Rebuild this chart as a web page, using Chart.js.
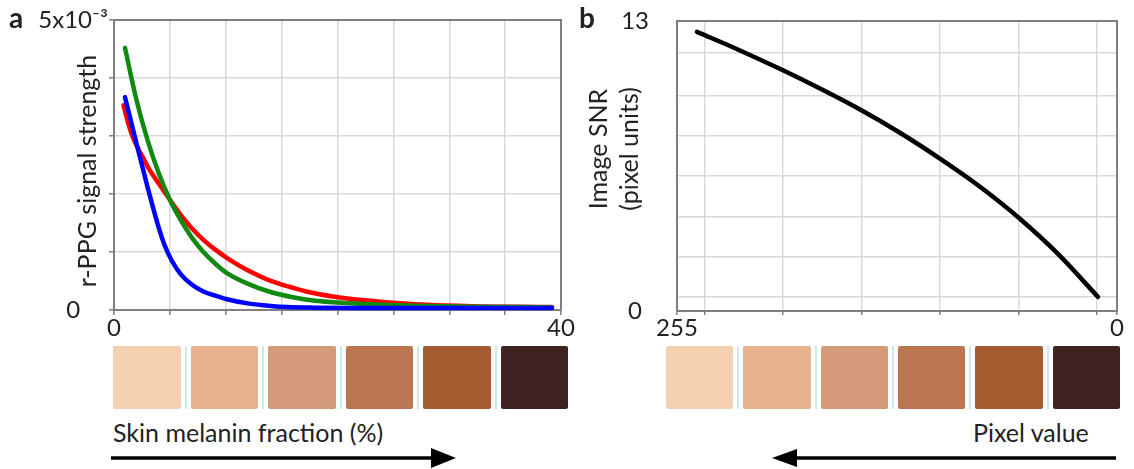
<!DOCTYPE html>
<html><head><meta charset="utf-8">
<script src="https://cdn.jsdelivr.net/npm/chart.js@4"></script>
<style>
html,body{margin:0;padding:0;background:#fff;}
#wrap{position:relative;width:1134px;height:469px;overflow:hidden;font-family:Lato,'DejaVu Sans',sans-serif;color:#222;}
.box{position:absolute;}
.sw{flex:1;border-radius:2px;}
.gap{width:10px;background:linear-gradient(to right,transparent 4px,#cdeaea 4px,#cdeaea 6px,transparent 6px);}
.lbl{position:absolute;font-size:25px;line-height:28px;white-space:nowrap;}
.panel{position:absolute;font-weight:bold;font-size:28px;line-height:32px;}
</style></head><body>
<div id="wrap">
  <div class="box" style="left:0;top:0;width:580px;height:340px"><canvas id="ca"></canvas></div>
  <div class="box" style="left:580px;top:0;width:554px;height:340px"><canvas id="cb"></canvas></div>
  <div class="panel" style="left:9px;top:1px">a</div>
  <div class="panel" style="left:579px;top:1px">b</div>
  <div id="swA"></div>
  <div id="swB"></div>
  <div class="lbl" id="xtA" style="left:113px;top:418px"></div>
  <div class="lbl" id="xtB" style="left:973px;top:418px"></div>
  <svg style="position:absolute;left:0;top:0" width="1134" height="469">
    <line x1="111" y1="458" x2="436" y2="458" stroke="#000" stroke-width="3.5"/>
    <polygon points="456,458 431,448 431,468" fill="#000"/>
    <line x1="1116" y1="458" x2="792" y2="458" stroke="#000" stroke-width="3.5"/>
    <polygon points="772,458 797,449 797,467" fill="#000"/>
  </svg>
</div>
<script>
// ---- Panel a data: r-PPG signal strength (x10^-3) vs skin melanin fraction (%)
const blueX  = [0.98, 1.5, 2, 2.5, 3, 3.5, 4, 4.5, 5.2, 6, 6.95, 8, 9, 10, 12.1, 14, 15.5, 18, 22, 28, 34, 39.2];
const blueY  = [3.67, 3.27, 2.88, 2.50, 2.12, 1.76, 1.42, 1.13, 0.84, 0.61, 0.44, 0.32, 0.25, 0.19, 0.11, 0.07, 0.05, 0.04, 0.035, 0.035, 0.035, 0.035];
const greenX = [0.98, 2, 3, 4, 5, 6, 7, 8, 9, 10, 12, 14, 16, 18, 20, 24, 28, 32, 36, 39.2];
const greenY = [4.52, 3.63, 2.93, 2.36, 1.90, 1.54, 1.24, 1.00, 0.81, 0.65, 0.45, 0.31, 0.22, 0.16, 0.13, 0.09, 0.07, 0.055, 0.05, 0.045];
const redX   = [0.85, 1.3, 1.7, 2.5, 3.2, 4, 5, 6, 7, 8, 9, 10.4, 12, 13.8, 15.5, 17.2, 20, 24, 28, 32, 36, 39.2];
const redY   = [3.53, 3.20, 2.97, 2.66, 2.41, 2.18, 1.90, 1.63, 1.40, 1.21, 1.05, 0.86, 0.68, 0.52, 0.41, 0.32, 0.22, 0.14, 0.09, 0.065, 0.055, 0.05];
const aXLabelValues = [0, 40];
const aYLabelValues = [0, 5];
const aYLabels = ['0', '5x10\u207B\u00B3'];
const aYTitle = 'r-PPG signal strength';
const aXTitle = 'Skin melanin fraction (%)';

// ---- Panel b data: image SNR vs pixel value
const pixelX = [243.4, 218.5, 193.6, 172.1, 148.9, 125.8, 102.6, 79.4, 56.8, 34.2, 11.0];
const snrY   = [12.51, 11.68, 10.79, 9.97, 9.03, 7.99, 6.83, 5.57, 4.17, 2.56, 0.63];
const bXGrid = [255, 238.8, 193.6, 147.8, 102.6, 56.8, 11.6, 0];
const bYGrid = [0, 0.63, 2.42, 4.21, 6.05, 7.84, 9.64, 11.56, 13];
const bXLabelValues = [255, 0];
const bYLabelValues = [0, 13];
const bYTitle = ['Image SNR', '(pixel units)'];
const bXTitle = 'Pixel value';

const skinColors = ['#f4cfb0', '#e8b18e', '#d39b79', '#bb7751', '#a35c2d', '#3e2320'];

// ---- styles
const FONT = "Lato, 'DejaVu Sans', sans-serif";
const TXT = '#222';
const GRID = '#d9d9d9';
const AXIS = '#7f7f7f';
const TICKFONT = { family: FONT, size: 24, lineHeight: 1 };

document.getElementById('xtA').textContent = aXTitle;
document.getElementById('xtB').textContent = bXTitle;

function buildSwatches(id, left, width) {
  const el = document.getElementById(id);
  el.style.cssText = 'position:absolute;left:' + left + 'px;top:346px;width:' + width + 'px;height:63px;display:flex;';
  skinColors.forEach((c, i) => {
    if (i > 0) { const g = document.createElement('div'); g.className = 'gap'; el.appendChild(g); }
    const d = document.createElement('div'); d.className = 'sw'; d.style.background = c; el.appendChild(d);
  });
}
buildSwatches('swA', 113, 455);
buildSwatches('swB', 666, 454);

const framePlugin = {
  id: 'frame',
  beforeDatasetsDraw(chart) {
    const a = chart.chartArea, ctx = chart.ctx;
    ctx.save(); ctx.strokeStyle = AXIS; ctx.lineWidth = 2;
    ctx.strokeRect(a.left, a.top, a.right - a.left, a.bottom - a.top);
    ctx.restore();
  }
};
const sideTitle = {
  id: 'sideTitle',
  afterDraw(chart, args, opts) {
    const ctx = chart.ctx;
    ctx.save();
    ctx.font = opts.size + 'px ' + FONT;
    ctx.fillStyle = TXT; ctx.textAlign = 'center'; ctx.textBaseline = 'middle';
    opts.lines.forEach((t, i) => {
      ctx.save();
      ctx.translate(opts.x + i * opts.lineGap, opts.y);
      ctx.rotate(-Math.PI / 2);
      ctx.fillText(t, 0, 0);
      ctx.restore();
    });
    ctx.restore();
  }
};

const lineEl = { borderWidth: 4.5, cubicInterpolationMode: 'monotone', borderCapStyle: 'round', borderJoinStyle: 'round' };
const pts = (xs, ys) => xs.map((x, i) => ({ x: x, y: ys[i] }));

new Chart(document.getElementById('ca'), {
  type: 'line',
  data: { datasets: [
    { data: pts(blueX, blueY), borderColor: '#0000ff', clip: 4 },
    { data: pts(greenX, greenY), borderColor: '#118a11', clip: 4 },
    { data: pts(redX, redY), borderColor: '#ff0000', clip: 4 }
  ] },
  options: {
    responsive: true, maintainAspectRatio: false, animation: false,
    layout: { padding: { left: 0, right: 19, top: 20, bottom: 0 } },
    elements: { point: { radius: 0 }, line: lineEl },
    plugins: { legend: { display: false }, tooltip: { enabled: false },
      sideTitle: { lines: [aYTitle], x: 88, y: 171, size: 25, lineGap: 0 } },
    scales: {
      x: { type: 'linear', min: 0, max: 40,
        ticks: { stepSize: 5, autoSkip: false, maxRotation: 0, padding: 1, color: TXT, font: TICKFONT,
          callback: v => aXLabelValues.includes(v) ? String(v) : '' },
        grid: { color: GRID, lineWidth: 1.5, tickLength: 5, tickColor: AXIS, tickWidth: 1.5 },
        border: { color: AXIS, width: 2 },
        afterFit: s => { s.height = 30; } },
      y: { min: 0, max: 5,
        ticks: { stepSize: 1, autoSkip: false, padding: 1, crossAlign: 'center', color: TXT, font: TICKFONT,
          callback: v => { const k = aYLabelValues.indexOf(v); return k >= 0 ? aYLabels[k] : ''; } },
        grid: { color: GRID, lineWidth: 1.5, tickLength: 5, tickColor: AXIS, tickWidth: 1.5 },
        border: { color: AXIS, width: 2 },
        afterFit: s => { s.width = 114; } }
    }
  },
  plugins: [framePlugin, sideTitle]
});

new Chart(document.getElementById('cb'), {
  type: 'line',
  data: { datasets: [ { data: pts(pixelX, snrY), borderColor: '#000000', clip: 4 } ] },
  options: {
    responsive: true, maintainAspectRatio: false, animation: false,
    layout: { padding: { left: 0, right: 17, top: 21, bottom: 0 } },
    elements: { point: { radius: 0 }, line: lineEl },
    plugins: { legend: { display: false }, tooltip: { enabled: false },
      sideTitle: { lines: bYTitle, x: 19, y: 149, size: 25, lineGap: 31 } },
    scales: {
      x: { type: 'linear', min: 0, max: 255, reverse: true,
        afterBuildTicks: s => { s.ticks = bXGrid.map(v => ({ value: v })); },
        ticks: { autoSkip: false, maxRotation: 0, padding: 1, color: TXT, font: TICKFONT,
          callback: v => bXLabelValues.includes(v) ? String(v) : '' },
        grid: { color: GRID, lineWidth: 1.5, tickLength: 4, tickColor: AXIS, tickWidth: 1.5 },
        border: { color: AXIS, width: 2 },
        afterFit: s => { s.height = 29; } },
      y: { min: 0, max: 13,
        afterBuildTicks: s => { s.ticks = bYGrid.map(v => ({ value: v })); },
        ticks: { autoSkip: false, padding: 0, crossAlign: 'center', color: TXT, font: TICKFONT,
          callback: v => bYLabelValues.includes(v) ? String(v) : '' },
        grid: { color: GRID, lineWidth: 1.5, drawTicks: true, tickLength: 28, tickColor: 'rgba(0,0,0,0)' },
        border: { color: AXIS, width: 2 },
        afterFit: s => { s.width = 97; } }
    }
  },
  plugins: [framePlugin, sideTitle]
});
</script>
</body></html>
